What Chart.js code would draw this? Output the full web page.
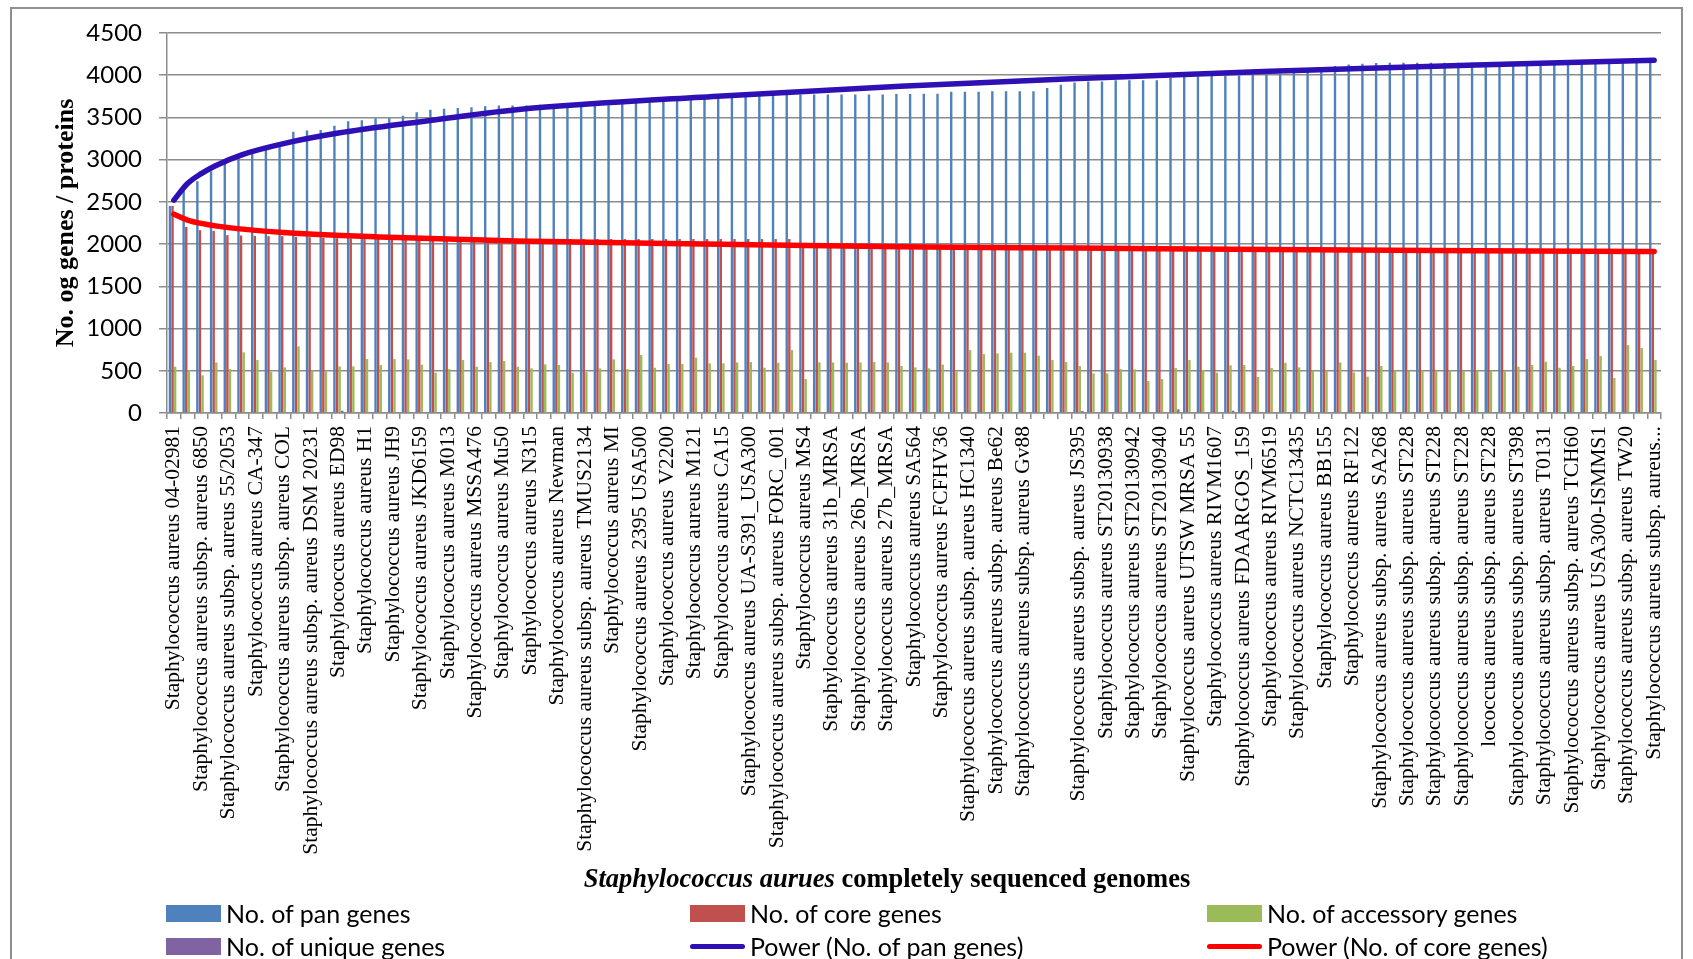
<!DOCTYPE html>
<html>
<head>
<meta charset="utf-8">
<title>Staphylococcus aurues pan / core genome</title>
<script src="https://cdn.jsdelivr.net/npm/chart.js@4.4.1/dist/chart.umd.min.js"></script>
<style>
    html, body { margin: 0; padding: 0; background: #fff; }
    #wrap   { position: relative; width: 1693px; height: 959px; overflow: hidden; }
    #frame  { position: absolute; left: 10px; top: 7px; width: 1673px; height: 1000px;
              border: 2px solid #8f8f8f; box-sizing: border-box; }
    #chart  { position: absolute; left: 0; top: 0; }
    #xTitle { position: absolute; left: 487px; width: 800px; top: 863px; text-align: center;
              font: bold 26.5px 'Liberation Serif', serif; white-space: nowrap; }
    .lg-item { position: absolute; height: 30px; display: flex; align-items: center;
               font: 25px Lato, sans-serif; white-space: nowrap; color: #000; }
    .lg-box  { width: 55px; height: 17px; margin-right: 5px; }
    .lg-line { width: 55px; height: 5px; border-radius: 3px; margin-right: 5px; }
</style>
</head>
<body>
<div id="wrap">
    <div id="frame"></div>
    <canvas id="chart" width="1693" height="959"></canvas>
    <div id="xTitle"><i>Staphylococcus aurues</i> completely sequenced genomes</div>
    <div id="legend"></div>
</div>

<script>
// ── Data ─────────────────────────────────────────────────────────────

// only every second genome carries a visible name on the axis
const tickLabels = [
    'Staphylococcus aureus 04-02981',
    'Staphylococcus aureus subsp. aureus 6850',
    'Staphylococcus aureus subsp. aureus 55/2053',
    'Staphylococcus aureus CA-347',
    'Staphylococcus aureus subsp. aureus COL',
    'Staphylococcus aureus subsp. aureus DSM 20231',
    'Staphylococcus aureus ED98',
    'Staphylococcus aureus H1',
    'Staphylococcus aureus JH9',
    'Staphylococcus aureus JKD6159',
    'Staphylococcus aureus M013',
    'Staphylococcus aureus MSSA476',
    'Staphylococcus aureus Mu50',
    'Staphylococcus aureus N315',
    'Staphylococcus aureus Newman',
    'Staphylococcus aureus subsp. aureus TMUS2134',
    'Staphylococcus aureus MI',
    'Staphylococcus aureus 2395 USA500',
    'Staphylococcus aureus V2200',
    'Staphylococcus aureus M121',
    'Staphylococcus aureus CA15',
    'Staphylococcus aureus UA-S391_USA300',
    'Staphylococcus aureus subsp. aureus FORC_001',
    'Staphylococcus aureus MS4',
    'Staphylococcus aureus 31b_MRSA',
    'Staphylococcus aureus 26b_MRSA',
    'Staphylococcus aureus 27b_MRSA',
    'Staphylococcus aureus SA564',
    'Staphylococcus aureus FCFHV36',
    'Staphylococcus aureus subsp. aureus HC1340',
    'Staphylococcus aureus subsp. aureus Be62',
    'Staphylococcus aureus subsp. aureus Gv88',
    '',
    'Staphylococcus aureus subsp. aureus JS395',
    'Staphylococcus aureus ST20130938',
    'Staphylococcus aureus ST20130942',
    'Staphylococcus aureus ST20130940',
    'Staphylococcus aureus UTSW MRSA 55',
    'Staphylococcus aureus RIVM1607',
    'Staphylococcus aureus FDAARGOS_159',
    'Staphylococcus aureus RIVM6519',
    'Staphylococcus aureus NCTC13435',
    'Staphylococcus aureus BB155',
    'Staphylococcus aureus RF122',
    'Staphylococcus aureus subsp. aureus SA268',
    'Staphylococcus aureus subsp. aureus ST228',
    'Staphylococcus aureus subsp. aureus ST228',
    'Staphylococcus aureus subsp. aureus ST228',
    'lococcus aureus subsp. aureus ST228',
    'Staphylococcus aureus subsp. aureus ST398',
    'Staphylococcus aureus subsp. aureus T0131',
    'Staphylococcus aureus subsp. aureus TCH60',
    'Staphylococcus aureus USA300-ISMMS1',
    'Staphylococcus aureus subsp. aureus TW20',
    'Staphylococcus aureus subsp. aureus...',
];

const panGenes = [
    2452, 2638, 2744, 2863, 2953, 3024, 3091, 3119, 3158, 3332,
    3344, 3352, 3403, 3454, 3466, 3490, 3490, 3521, 3561, 3592,
    3604, 3612, 3620, 3632, 3640, 3640, 3640, 3651, 3610, 3616,
    3624, 3635, 3643, 3659, 3671, 3679, 3691, 3702, 3714, 3726,
    3734, 3742, 3750, 3758, 3766, 3773, 3773, 3773, 3773, 3773,
    3773, 3773, 3773, 3777, 3777, 3781, 3781, 3805, 3805, 3805,
    3809, 3809, 3809, 3809, 3848, 3888, 3915, 3927, 3927, 3939,
    3939, 3939, 3939, 3971, 3978, 3986, 3990, 3994, 3998, 4006,
    4010, 4018, 4030, 4060, 4093, 4109, 4128, 4136, 4144, 4148,
    4148, 4148, 4148, 4148, 4148, 4150, 4152, 4155, 4158, 4160,
    4162, 4164, 4166, 4168, 4170, 4172, 4174, 4176, 4178,
];

const coreGenes = [
    2452, 2204, 2165, 2157, 2106, 2102, 2098, 2094, 2094, 2086,
    2082, 2074, 2070, 2066, 2062, 2060, 2060, 2060, 2060, 2060,
    2060, 2060, 2060, 2060, 2060, 2060, 2060, 2060, 2060, 2060,
    2060, 2060, 2060, 2060, 2060, 2060, 2060, 2060, 2060, 2060,
    2060, 2060, 2060, 2060, 2060, 2060, 1985, 1985, 1985, 1985,
    1985, 1985, 1985, 1970, 1970, 1970, 1970, 1970, 1970, 1970,
    1970, 1955, 1955, 1955, 1955, 1955, 1955, 1955, 1955, 1955,
    1955, 1940, 1940, 1940, 1940, 1940, 1940, 1940, 1940, 1940,
    1940, 1930, 1930, 1930, 1930, 1930, 1930, 1930, 1930, 1930,
    1930, 1930, 1930, 1930, 1930, 1930, 1915, 1915, 1915, 1915,
    1915, 1915, 1915, 1915, 1915, 1915, 1915, 1915, 1915,
];

const accessoryGenes = [
    548, 509, 446, 599, 520, 718, 627, 485, 540, 789,
    501, 493, 552, 552, 639, 568, 639, 635, 572, 477,
    520, 627, 548, 603, 615, 548, 528, 576, 568, 477,
    485, 528, 635, 520, 686, 536, 580, 580, 655, 588,
    588, 599, 603, 536, 595, 745, 402, 599, 599, 595,
    599, 603, 599, 556, 540, 528, 572, 493, 745, 698,
    706, 714, 714, 678, 627, 603, 556, 469, 469, 520,
    517, 379, 402, 532, 627, 509, 477, 564, 568, 426,
    532, 595, 540, 501, 501, 599, 481, 430, 556, 505,
    497, 501, 501, 501, 493, 501, 501, 493, 548, 568,
    607, 536, 556, 639, 674, 414, 804, 769, 627,
];

const uniqueGenes = [
    0, 0, 0, 0, 0, 0, 0, 0, 0, 0,
    0, 0, 27, 12, 0, 0, 0, 0, 0, 5,
    0, 0, 0, 0, 0, 0, 0, 0, 0, 0,
    0, 0, 0, 0, 0, 0, 0, 0, 0, 0,
    0, 5, 0, 0, 0, 0, 0, 0, 0, 0,
    0, 0, 0, 0, 0, 0, 0, 8, 0, 0,
    0, 0, 0, 0, 8, 8, 24, 0, 0, 0,
    0, 0, 0, 43, 0, 0, 0, 27, 0, 0,
    0, 0, 0, 0, 10, 0, 6, 0, 0, 0,
    0, 0, 0, 0, 0, 0, 0, 0, 0, 0,
    0, 0, 0, 0, 0, 0, 0, 0, 0,
];

// power trend lines, read at a few genome positions along each curve
const panTrendAt  = [0, 1, 2, 3, 5, 8, 12, 18, 25, 40, 53, 66, 80, 95, 108];
const panTrend    = [2520, 2717, 2835, 2926, 3060, 3190, 3315, 3450, 3592, 3755, 3870, 3960, 4046, 4120, 4176];
const coreTrendAt = [0, 1, 2, 4, 8, 15, 25, 40, 53, 66, 80, 95, 108];
const coreTrend   = [2354, 2285, 2245, 2195, 2138, 2085, 2036, 1997, 1968, 1953, 1936, 1922, 1912];

const yTicks = [0, 500, 1000, 1500, 2000, 2500, 3000, 3500, 4000, 4500];

const seriesNames = [
    'No. of pan genes', 'No. of core genes', 'No. of accessory genes',
    'No. of unique genes', 'Power (No. of pan genes)', 'Power (No. of core genes)',
];
const seriesColors = ['#4f81bd', '#c0504d', '#9bbb59', '#8064a2', '#2e10b4', '#ff0000'];

// ── Helpers ──────────────────────────────────────────────────────────

function buildCategories(names) {
    const out = [];
    names.forEach((n, i) => {
        out.push(n);
        if (i < names.length - 1) out.push('');
    });
    return out;
}

function sparseSeries(len, at, values) {
    const out = new Array(len).fill(null);
    at.forEach((idx, i) => { out[idx] = values[i]; });
    return out;
}

// ── Chart ────────────────────────────────────────────────────────────

const categories = buildCategories(tickLabels);
const n = categories.length;
const gridGrey = '#8c8c8c';

const barStyle = { categoryPercentage: 0.76, barPercentage: 0.92, borderWidth: 0, order: 1 };
const lineStyle = {
    type: 'line', pointRadius: 0, borderWidth: 5.5, spanGaps: true,
    cubicInterpolationMode: 'monotone', borderCapStyle: 'round', fill: false, order: 0,
};

new Chart(document.getElementById('chart'), {
    type: 'bar',
    data: {
        labels: categories,
        datasets: [
            { label: seriesNames[0], data: panGenes,       backgroundColor: seriesColors[0], ...barStyle },
            { label: seriesNames[1], data: coreGenes,      backgroundColor: seriesColors[1], ...barStyle },
            { label: seriesNames[2], data: accessoryGenes, backgroundColor: seriesColors[2], ...barStyle },
            { label: seriesNames[3], data: uniqueGenes,    backgroundColor: seriesColors[3], ...barStyle },
            { label: seriesNames[4], data: sparseSeries(n, panTrendAt, panTrend),   borderColor: seriesColors[4], ...lineStyle },
            { label: seriesNames[5], data: sparseSeries(n, coreTrendAt, coreTrend), borderColor: seriesColors[5], ...lineStyle },
        ],
    },
    options: {
        responsive: false,
        animation: false,
        events: [],
        layout: { padding: { left: 0, right: 32, top: 33, bottom: 0 } },
        plugins: { legend: { display: false }, tooltip: { enabled: false } },
        scales: {
            x: {
                afterFit: (s) => { s.height = 546; },
                grid: { drawOnChartArea: false, drawTicks: true, tickLength: 6, color: gridGrey, lineWidth: 1.5 },
                border: { display: true, color: gridGrey, width: 1.5 },
                ticks: {
                    autoSkip: false, minRotation: 90, maxRotation: 90, padding: 7, color: '#000',
                    font: { family: "'Liberation Serif', serif", size: 21.5 },
                },
            },
            y: {
                min: 0, max: 4500,
                afterFit: (s) => { s.width = 167; },
                afterBuildTicks: (s) => { s.ticks = yTicks.map(v => ({ value: v })); },
                grid: { color: gridGrey, lineWidth: 1.5, tickLength: 8 },
                border: { display: true, color: gridGrey, width: 1.5 },
                ticks: {
                    padding: 17, color: '#000', font: { family: 'Lato', size: 24 },
                    callback: (v) => String(v),
                },
                title: {
                    display: true, text: 'No. og genes / proteins', color: '#000',
                    padding: { top: 51, bottom: 0 },
                    font: { family: "'Liberation Serif', serif", size: 26, weight: 'bold' },
                },
            },
        },
    },
});

// ── Legend ───────────────────────────────────────────────────────────

function renderLegend() {
    const cols = [166, 690, 1207];
    const rows = [898, 931];
    const box = document.getElementById('legend');
    box.innerHTML = seriesNames.map((name, i) => {
        const isLine = i >= 4;
        const mark = isLine
            ? `<span class="lg-line" style="background:${seriesColors[i]}"></span>`
            : `<span class="lg-box" style="background:${seriesColors[i]}"></span>`;
        return `<div class="lg-item" style="left:${cols[i % 3]}px;top:${rows[Math.floor(i / 3)]}px">${mark}${name}</div>`;
    }).join('');
}

renderLegend();
</script>
</body>
</html>
